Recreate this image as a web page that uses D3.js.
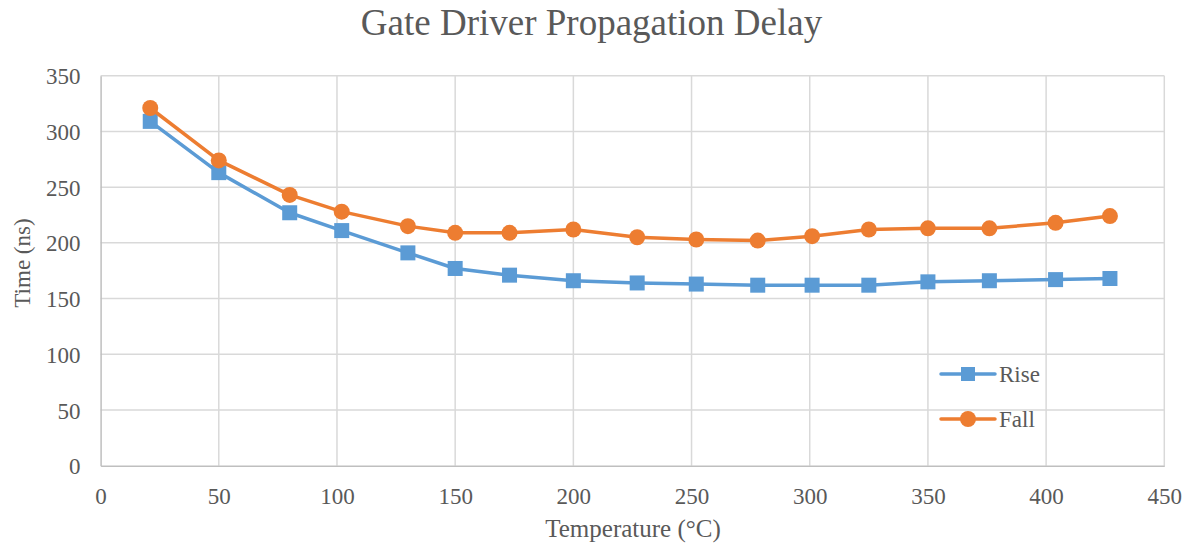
<!DOCTYPE html>
<html><head><meta charset="utf-8">
<script src="https://cdn.jsdelivr.net/npm/d3@7"></script>
<style>body{margin:0;background:#fff}svg{display:block}
svg text{font-family:'Liberation Serif','Times New Roman',serif !important;}</style>
</head><body>
<svg id="c" width="1191" height="550"></svg>
<script>
const temps = [21, 50, 80, 102, 130, 150, 173, 200, 227, 252, 278, 301, 325, 350, 376, 404, 427];
const rise  = [309, 263, 227, 211, 191, 177, 171, 166, 164, 163, 162, 162, 162, 165, 166, 167, 168];
const fall  = [321, 274, 243, 228, 215, 209, 209, 212, 205, 203, 202, 206, 212, 213, 213, 218, 224];
const xTicks = [0, 50, 100, 150, 200, 250, 300, 350, 400, 450];
const yTicks = [0, 50, 100, 150, 200, 250, 300, 350];
const seriesNames = ["Rise", "Fall"];
const colors = ["#5b9bd5", "#ed7d31"];

const svg = d3.select("#c");
const font = "'Liberation Serif','Times New Roman',serif";
const txt = "#595959";
const L = 100.6, R = 1164.3, T = 75.7, B = 465.7;
const x = d3.scaleLinear().domain([0, 450]).range([L, R]);
const y = d3.scaleLinear().domain([0, 350]).range([B, T]);

// gridlines
svg.append("g").selectAll("line").data(xTicks.slice(1)).join("line")
  .attr("x1", d => x(d)).attr("x2", d => x(d)).attr("y1", T).attr("y2", B)
  .attr("stroke", "#d9d9d9").attr("stroke-width", 1.5);
svg.append("g").selectAll("line").data(yTicks.slice(1)).join("line")
  .attr("x1", L).attr("x2", R).attr("y1", d => y(d)).attr("y2", d => y(d))
  .attr("stroke", "#d9d9d9").attr("stroke-width", 1.5);

// axes
const xAxis = svg.append("g").attr("transform", `translate(0,${B})`)
  .call(d3.axisBottom(x).tickValues(xTicks).tickSize(0).tickPadding(22));
const yAxis = svg.append("g").attr("transform", `translate(${L},0)`)
  .call(d3.axisLeft(y).tickValues(yTicks).tickSize(0).tickPadding(20));
[xAxis, yAxis].forEach(a => {
  a.attr("font-family", font).attr("font-size", 23);
  a.select(".domain").attr("stroke", "#bfbfbf").attr("stroke-width", 1.5);
  a.selectAll("text").style("font-family", font).attr("font-size", 23).attr("fill", txt);
});
yAxis.selectAll("text").attr("dy", "0.35em");
xAxis.selectAll("text").attr("dy", "0.71em");

// lines and markers
const data = [rise, fall];
const line = d3.line().x((d, i) => x(temps[i])).y(d => y(d));
data.forEach((vals, si) => {
  svg.append("path").datum(vals).attr("d", line)
    .attr("fill", "none").attr("stroke", colors[si]).attr("stroke-width", 3.5)
    .attr("stroke-linejoin", "round").attr("stroke-linecap", "round");
  const g = svg.append("g");
  if (si === 0) {
    g.selectAll("rect").data(vals).join("rect")
      .attr("x", (d, i) => x(temps[i]) - 7.5).attr("y", d => y(d) - 7.5)
      .attr("width", 15).attr("height", 15).attr("fill", colors[si]);
  } else {
    g.selectAll("circle").data(vals).join("circle")
      .attr("cx", (d, i) => x(temps[i])).attr("cy", d => y(d)).attr("r", 8)
      .attr("fill", colors[si]);
  }
});

// legend
const legY = [374, 419];
seriesNames.forEach((name, si) => {
  const g = svg.append("g");
  g.append("line").attr("x1", 941).attr("x2", 995).attr("y1", legY[si]).attr("y2", legY[si])
    .attr("stroke", colors[si]).attr("stroke-width", 3.5).attr("stroke-linecap", "round");
  if (si === 0) g.append("rect").attr("x", 961).attr("y", legY[si] - 7).attr("width", 14).attr("height", 14).attr("fill", colors[si]);
  else g.append("circle").attr("cx", 968).attr("cy", legY[si]).attr("r", 8).attr("fill", colors[si]);
  g.append("text").attr("x", 999).attr("y", legY[si]).attr("dy", "0.35em")
    .attr("font-family", font).attr("font-size", 23).attr("fill", txt).text(name);
});

// titles
svg.append("text").attr("x", 591.5).attr("y", 35).attr("text-anchor", "middle")
  .attr("font-family", font).attr("font-size", 37).attr("fill", txt).text("Gate Driver Propagation Delay");
svg.append("text").attr("x", 633).attr("y", 537).attr("text-anchor", "middle")
  .attr("font-family", font).attr("font-size", 25).attr("fill", txt).text("Temperature (°C)");
svg.append("text").attr("transform", "translate(30,263) rotate(-90)").attr("text-anchor", "middle")
  .attr("font-family", font).attr("font-size", 23).attr("fill", txt).text("Time (ns)");
</script>
</body></html>
